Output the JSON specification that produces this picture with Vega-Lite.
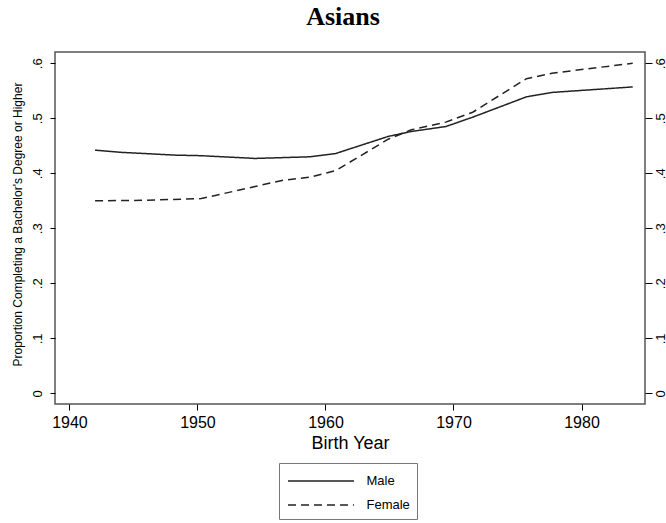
{
  "$schema": "https://vega.github.io/schema/vega-lite/v6.json",
  "autosize": {"type": "none"},
  "padding": {"left": 55, "top": 52, "right": 21, "bottom": 119},
  "width": 590,
  "height": 352,
  "background": "white",
  "title": {
    "text": "Asians",
    "font": "Liberation Serif",
    "fontSize": 26,
    "fontWeight": "bold",
    "color": "black",
    "anchor": "middle",
    "frame": "group",
    "baseline": "alphabetic",
    "offset": 1,
    "dx": -7
  },
  "config": {
    "view": {"stroke": "#555", "strokeWidth": 1.5},
    "axis": {
      "domain": false,
      "grid": false,
      "labelFont": "Liberation Sans",
      "titleFont": "Liberation Sans",
      "labelColor": "black",
      "titleColor": "black",
      "tickColor": "black",
      "titleFontWeight": "normal"
    }
  },
  "data": {
    "values": [
      {"year": 1942, "value": 0.442, "sex": "Male"},
      {"year": 1944.1, "value": 0.438, "sex": "Male"},
      {"year": 1948.3, "value": 0.433, "sex": "Male"},
      {"year": 1950.3, "value": 0.432, "sex": "Male"},
      {"year": 1954.5, "value": 0.427, "sex": "Male"},
      {"year": 1958.8, "value": 0.430, "sex": "Male"},
      {"year": 1960.8, "value": 0.436, "sex": "Male"},
      {"year": 1964.9, "value": 0.467, "sex": "Male"},
      {"year": 1966.7, "value": 0.476, "sex": "Male"},
      {"year": 1969.4, "value": 0.485, "sex": "Male"},
      {"year": 1971.5, "value": 0.502, "sex": "Male"},
      {"year": 1975.7, "value": 0.539, "sex": "Male"},
      {"year": 1977.7, "value": 0.547, "sex": "Male"},
      {"year": 1984, "value": 0.557, "sex": "Male"},
      {"year": 1942, "value": 0.350, "sex": "Female"},
      {"year": 1946, "value": 0.351, "sex": "Female"},
      {"year": 1950.3, "value": 0.354, "sex": "Female"},
      {"year": 1954.5, "value": 0.376, "sex": "Female"},
      {"year": 1956.6, "value": 0.387, "sex": "Female"},
      {"year": 1958.8, "value": 0.393, "sex": "Female"},
      {"year": 1960.8, "value": 0.405, "sex": "Female"},
      {"year": 1962.9, "value": 0.434, "sex": "Female"},
      {"year": 1964.9, "value": 0.462, "sex": "Female"},
      {"year": 1966.7, "value": 0.479, "sex": "Female"},
      {"year": 1969.4, "value": 0.493, "sex": "Female"},
      {"year": 1971.5, "value": 0.511, "sex": "Female"},
      {"year": 1975.7, "value": 0.572, "sex": "Female"},
      {"year": 1977.7, "value": 0.582, "sex": "Female"},
      {"year": 1984, "value": 0.600, "sex": "Female"}
    ]
  },
  "layer": [
    {
      "mark": {"type": "line", "color": "#222", "strokeWidth": 1.5},
      "encoding": {
        "x": {
          "field": "year",
          "type": "quantitative",
          "scale": {"domain": [1938.87, 1984.96], "nice": false, "zero": false},
          "axis": {
            "orient": "bottom",
            "values": [1940, 1950, 1960, 1970, 1980],
            "format": "d",
            "tickSize": 6,
            "labelFontSize": 16,
            "labelBaseline": "alphabetic",
            "labelPadding": 17.5,
            "title": "Birth Year",
            "titleFontSize": 18,
            "titleBaseline": "alphabetic",
            "titleY": 44.3
          }
        },
        "y": {
          "field": "value",
          "type": "quantitative",
          "scale": {"domain": [-0.0194, 0.6205], "nice": false, "zero": false},
          "axis": {
            "orient": "left",
            "values": [0, 0.1, 0.2, 0.3, 0.4, 0.5, 0.6],
            "labelExpr": "datum.value == 0 ? '0' : slice(format(datum.value, '.1f'), 1)",
            "tickSize": 5,
            "labelFontSize": 13,
            "labelAngle": -90,
            "labelAlign": "center",
            "labelBaseline": "alphabetic",
            "labelPadding": 8.3,
            "title": "Proportion Completing a Bachelor's Degree or Higher",
            "titleFontSize": 12,
            "titleAngle": -90,
            "titleAlign": "center",
            "titleBaseline": "alphabetic",
            "titleX": -33.3,
            "titleY": 172
          }
        },
        "strokeDash": {
          "field": "sex",
          "type": "nominal",
          "scale": {"domain": ["Male", "Female"], "range": [[1, 0], [8, 5]]},
          "legend": {
            "title": null,
            "orient": "none",
            "legendX": 224,
            "legendY": 411,
            "symbolType": "M-3.3,0H3.3",
            "symbolSize": 400,
            "symbolOffset": 24,
            "symbolStrokeWidth": 1.5,
            "symbolStrokeColor": "#222",
            "symbolFillColor": "transparent",
            "labelFont": "Liberation Sans",
            "labelFontSize": 13,
            "labelColor": "black",
            "labelOffset": 34.5,
            "padding": 7,
            "rowPadding": 6,
            "strokeColor": "#777",
            "fillColor": "white"
          }
        }
      }
    },
    {
      "mark": {"type": "point", "opacity": 0},
      "encoding": {
        "x": {"field": "year", "type": "quantitative"},
        "y": {
          "field": "value",
          "type": "quantitative",
          "scale": {"domain": [-0.0194, 0.6205], "nice": false, "zero": false},
          "axis": {
            "orient": "right",
            "values": [0, 0.1, 0.2, 0.3, 0.4, 0.5, 0.6],
            "labelExpr": "datum.value == 0 ? '0' : slice(format(datum.value, '.1f'), 1)",
            "tickSize": 7,
            "labelFontSize": 13,
            "labelAngle": -90,
            "labelAlign": "center",
            "labelBaseline": "top",
            "labelPadding": 2,
            "title": null
          }
        }
      }
    }
  ],
  "resolve": {"scale": {"y": "independent"}, "axis": {"y": "independent"}}
}
